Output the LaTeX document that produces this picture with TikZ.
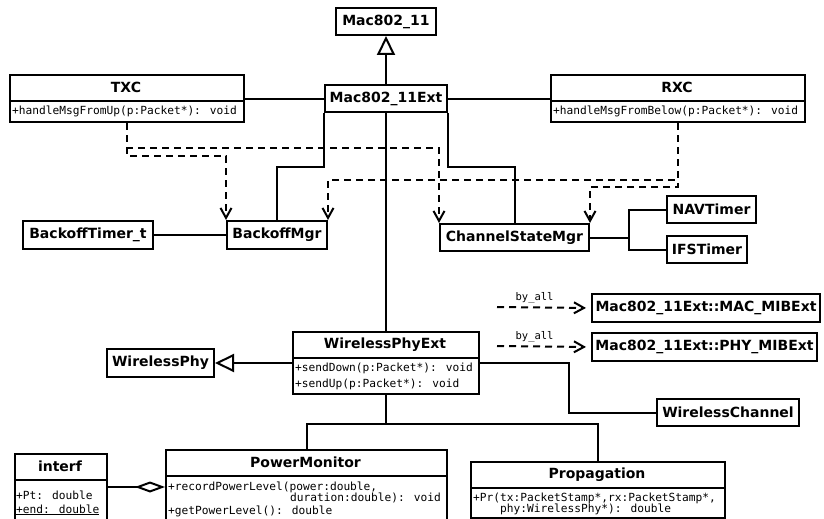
\documentclass[tikz,border=0pt]{standalone}
\usepackage{fontspec}
\setmainfont{DejaVu Sans}
\newfontfamily\monof{DejaVu Sans Mono}
\usetikzlibrary{arrows.meta}
\begin{document}
\begin{tikzpicture}[x=1pt,y=-1pt,
  box/.style={draw, line width=2pt, inner sep=0pt, anchor=north west},
  ttl/.style={font=\bfseries\fontsize{14}{16}\selectfont, inner sep=0pt},
  mth/.style={font=\monof\fontsize{11.2}{12}\selectfont, inner sep=0pt, anchor=base west},
  lbl/.style={font=\monof\fontsize{10.5}{11}\selectfont, inner sep=0pt},
  conn/.style={line width=2pt},
  divl/.style={line width=1.6pt},
  dep/.style={conn, dash pattern=on 7pt off 5pt, -{Straight Barb[length=10pt,width=11pt,line width=2pt]}},
  inh/.style={conn, -{Triangle[open,length=19pt,width=18pt,fill=white,line width=2pt]}},
  agg/.style={conn, -{Diamond[open,length=30pt,width=11pt,fill=white,line width=2pt]}},
]
\useasboundingbox (0,0) rectangle (824,519);
\clip (0,0) rectangle (824,519);

% ---- single boxes
\node[box, ttl, minimum width=100pt, minimum height=27pt] (mac) at (335,7) {Mac802\_11};
\node[box, ttl, minimum width=122pt, minimum height=27pt] (ext) at (324,84) {Mac802\_11Ext};
\node[box, ttl, minimum width=130pt, minimum height=28pt] (bt) at (22,220) {BackoffTimer\_t};
\node[box, ttl, minimum width=100pt, minimum height=28pt] (bm) at (226,220) {BackoffMgr};
\node[box, ttl, minimum width=149pt, minimum height=27pt] (csm) at (439,223) {ChannelStateMgr};
\node[box, ttl, minimum width=89pt, minimum height=27pt] (nav) at (666,195) {NAVTimer};
\node[box, ttl, minimum width=80pt, minimum height=27pt] (ifs) at (666,235) {IFSTimer};
\node[box, ttl, minimum width=107pt, minimum height=28pt] (wp) at (106,348) {WirelessPhy};
\node[box, ttl, minimum width=228pt, minimum height=28pt] (macmib) at (591,293) {Mac802\_11Ext::MAC\_MIBExt};
\node[box, ttl, minimum width=225pt, minimum height=28pt] (phymib) at (591,332) {Mac802\_11Ext::PHY\_MIBExt};
\node[box, ttl, minimum width=142pt, minimum height=27pt] (wc) at (656,398) {WirelessChannel};

% ---- TXC
\node[box, minimum width=234pt, minimum height=47pt] (txc) at (9,74) {};
\draw[divl] (txc.west |- 0,101) -- (txc.east |- 0,101);
\node[ttl] (txcT) at (126,87.5) {TXC};
\node[mth] (txcM) at (12,114.5) {+handleMsgFromUp(p:Packet*): void};

% ---- RXC
\node[box, minimum width=254pt, minimum height=47pt] (rxc) at (550,74) {};
\draw[divl] (rxc.west |- 0,101) -- (rxc.east |- 0,101);
\node[ttl] (rxcT) at (677,87.5) {RXC};
\node[mth] (rxcM) at (553,114.5) {+handleMsgFromBelow(p:Packet*): void};

% ---- WirelessPhyExt
\node[box, minimum width=186pt, minimum height=62pt] (wpe) at (292,331) {};
\draw[divl] (wpe.west |- 0,358) -- (wpe.east |- 0,358);
\node[ttl] (wpeT) at (385,344.5) {WirelessPhyExt};
\node[mth] (wpeM1) at (295,371) {+sendDown(p:Packet*): void};
\node[mth] (wpeM2) at (295,387) {+sendUp(p:Packet*): void};

% ---- PowerMonitor
\node[box, minimum width=281pt, minimum height=74pt] (pm) at (165,449) {};
\draw[divl] (pm.west |- 0,476) -- (pm.east |- 0,476);
\node[ttl] (pmT) at (305.5,462.5) {PowerMonitor};
\node[mth] (pmM1) at (168,490) {+recordPowerLevel(power:double,};
\node[mth] (pmM2) at (290,501) {duration:double): void};
\node[mth] (pmM3) at (168,514) {+getPowerLevel(): double};

% ---- Propagation
\node[box, minimum width=254pt, minimum height=56pt] (prop) at (470,461) {};
\draw[divl] (prop.west |- 0,488) -- (prop.east |- 0,488);
\node[ttl] (propT) at (597,474.5) {Propagation};
\node[mth] (propM1) at (473,501.5) {+Pr(tx:PacketStamp*,rx:PacketStamp*,};
\node[mth] (propM2) at (500,512) {phy:WirelessPhy*): double};

% ---- interf
\node[box, minimum width=92pt, minimum height=72pt] (interf) at (14,453) {};
\draw[divl] (interf.west |- 0,480) -- (interf.east |- 0,480);
\node[ttl] (interfT) at (60,466.5) {interf};
\node[mth] (interfM1) at (16,499) {+Pt: double};
\node[mth] (interfM2) at (16,513) {\underline{+end: double}};

% ---- connectors
\draw[inh] (ext.north) -- (mac.south);
\draw[conn] (txc.east) -- (ext.west);
\draw[conn] (ext.east) -- (rxc.west);
\draw[dep] (txc.south) -- ++(0,33) -| (bm.north west);
\draw[dep] (txc.south) -- ++(0,25) -| (csm.north west);
\draw[dep] (rxc.south) -- ++(0,57) -| (bm.north east);
\draw[dep] (rxc.south) -- ++(0,64) -| (csm.north east);
\draw[conn] (ext.south west) -- ++(0,54) -| (bm.north);
\draw[conn] (ext.south east) -- ++(0,54) -| (csm.north);
\draw[conn] (ext.south) -- (wpe.north);
\draw[conn] (bt.east) -- (bm.west);
\draw[conn] (csm.east) -- ++(39,0) coordinate (fork);
\draw[conn] (fork) |- (nav.west);
\draw[conn] (fork) |- (ifs.west);
\draw[inh] (wpe.west) -- (wp.east);
\coordinate (b1) at (497,307);
\coordinate (b2) at (497,346);
\draw[dep, shorten >=5pt] (b1) -- (macmib.west) node[lbl, pos=0.4, above=3pt] (l1) {by\_all};
\draw[dep, shorten >=5pt] (b2) -- (phymib.west) node[lbl, pos=0.4, above=3pt] (l2) {by\_all};
\draw[conn] (wpe.east) -- ++(89,0) |- (wc.west);
\draw[conn] (wpe.south) -- ++(0,29) coordinate (bj);
\draw[conn] (bj) -| (pm.north);
\draw[conn] (bj) -| (prop.north);
\draw[agg] (interf.east |- pm.west) -- (pm.west);
\end{tikzpicture}
\end{document}
